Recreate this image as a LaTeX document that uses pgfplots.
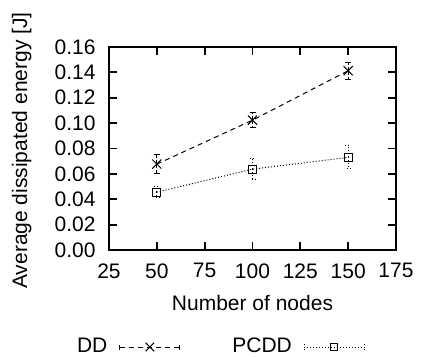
\documentclass[border=0pt]{standalone}
\usepackage{fontspec}
\setmainfont{Liberation Sans}
\usepackage{pgfplots}
\pgfplotsset{compat=1.18}
\begin{document}
\begin{tikzpicture}
\begin{axis}[
  at={(0,0)}, anchor=south west,
  scale only axis, width=143.5pt, height=101.5pt,
  xmin=25, xmax=175, ymin=0, ymax=0.16,
  xtick={25,50,75,100,125,150,175},
  ytick={0,0.02,0.04,0.06,0.08,0.10,0.12,0.14,0.16},
  /pgf/number format/assume math mode=true,
  yticklabel style={/pgf/number format/fixed, /pgf/number format/fixed zerofill, /pgf/number format/precision=2, inner sep=0pt, xshift=-6.5pt},
  xticklabel style={inner sep=0pt, yshift=-6.5pt},
  scaled y ticks=false,
  font=\fontsize{10.5}{12}\selectfont,
  tick align=inside, major tick length=4pt,
  tick style={line width=0.9pt, black},
  axis line style={line width=0.9pt},
  xlabel={Number of nodes},
  ylabel={Average dissipated energy [J]},
  xlabel style={at={(axis description cs:0.5,-0.2956)}, anchor=base, inner sep=0pt},
  ylabel style={at={(axis description cs:-0.2857,0.49)}, anchor=base, inner sep=0pt},
  legend plot pos=right,
  legend columns=2,
  legend style={draw=none, fill=none, at={(axis description cs:0.383,-0.478)}, anchor=center,
    font=\fontsize{10.5}{12}\selectfont,
    /tikz/every odd column/.append style={column sep=4pt},
    /tikz/every even column/.append style={column sep=24pt}},
]
\addplot[black, line width=0.5pt, dash pattern=on 2.5pt off 2pt, mark=x, mark size=3.2pt,
  mark options={solid},
  legend image code/.code={
    \draw[black, line width=0.5pt, dash pattern=on 2.5pt off 2pt] (0pt,0pt) -- (30pt,0pt);
    \draw[black, line width=0.5pt] (0pt,-1.5pt) -- (0pt,1.5pt) (30pt,-1.5pt) -- (30pt,1.5pt);
    \draw[black, line width=0.5pt, mark=x, mark size=3pt, only marks] plot coordinates {(15pt,0pt)};
  },
  error bars/.cd, y dir=both, y explicit,
  error bar style={line width=0.5pt, dash pattern=on 2pt off 1pt},
  error mark options={rotate=90, mark size=1.5pt, solid, line width=0.5pt}]
  coordinates {
  (50,0.0677) +- (0,0.0073)
  (100,0.1023) +- (0,0.0058)
  (150,0.1413) +- (0,0.0066)
  };
\addlegendentry{DD}
\addplot[black, line width=0.5pt, dash pattern=on 0.5pt off 1pt, mark=square, mark size=2pt,
  mark options={solid},
  legend image code/.code={
    \draw[black, line width=0.5pt, dash pattern=on 0.5pt off 1pt] (0pt,0pt) -- (30pt,0pt);
    \draw[black, line width=0.5pt, dash pattern=on 0.5pt off 0.7pt] (0pt,-1.5pt) -- (0pt,1.5pt) (30pt,-1.5pt) -- (30pt,1.5pt);
    \draw[black, line width=0.5pt, mark=square, mark size=1.8pt, only marks] plot coordinates {(15pt,0pt)};
  },
  error bars/.cd, y dir=both, y explicit,
  error bar style={line width=0.5pt, dash pattern=on 0.5pt off 1pt},
  error mark options={rotate=90, mark size=1.5pt, line width=0.5pt, dash pattern=on 0.5pt off 1pt}]
  coordinates {
  (50,0.0456) +- (0,0.0042)
  (100,0.0637) +- (0,0.0085)
  (150,0.0730) +- (0,0.0090)
  };
\addlegendentry{PCDD}
\end{axis}
\pgfresetboundingbox
\path (-54.5pt,-53.5pt) rectangle (156.5pt,125pt);
\end{tikzpicture}
\end{document}
